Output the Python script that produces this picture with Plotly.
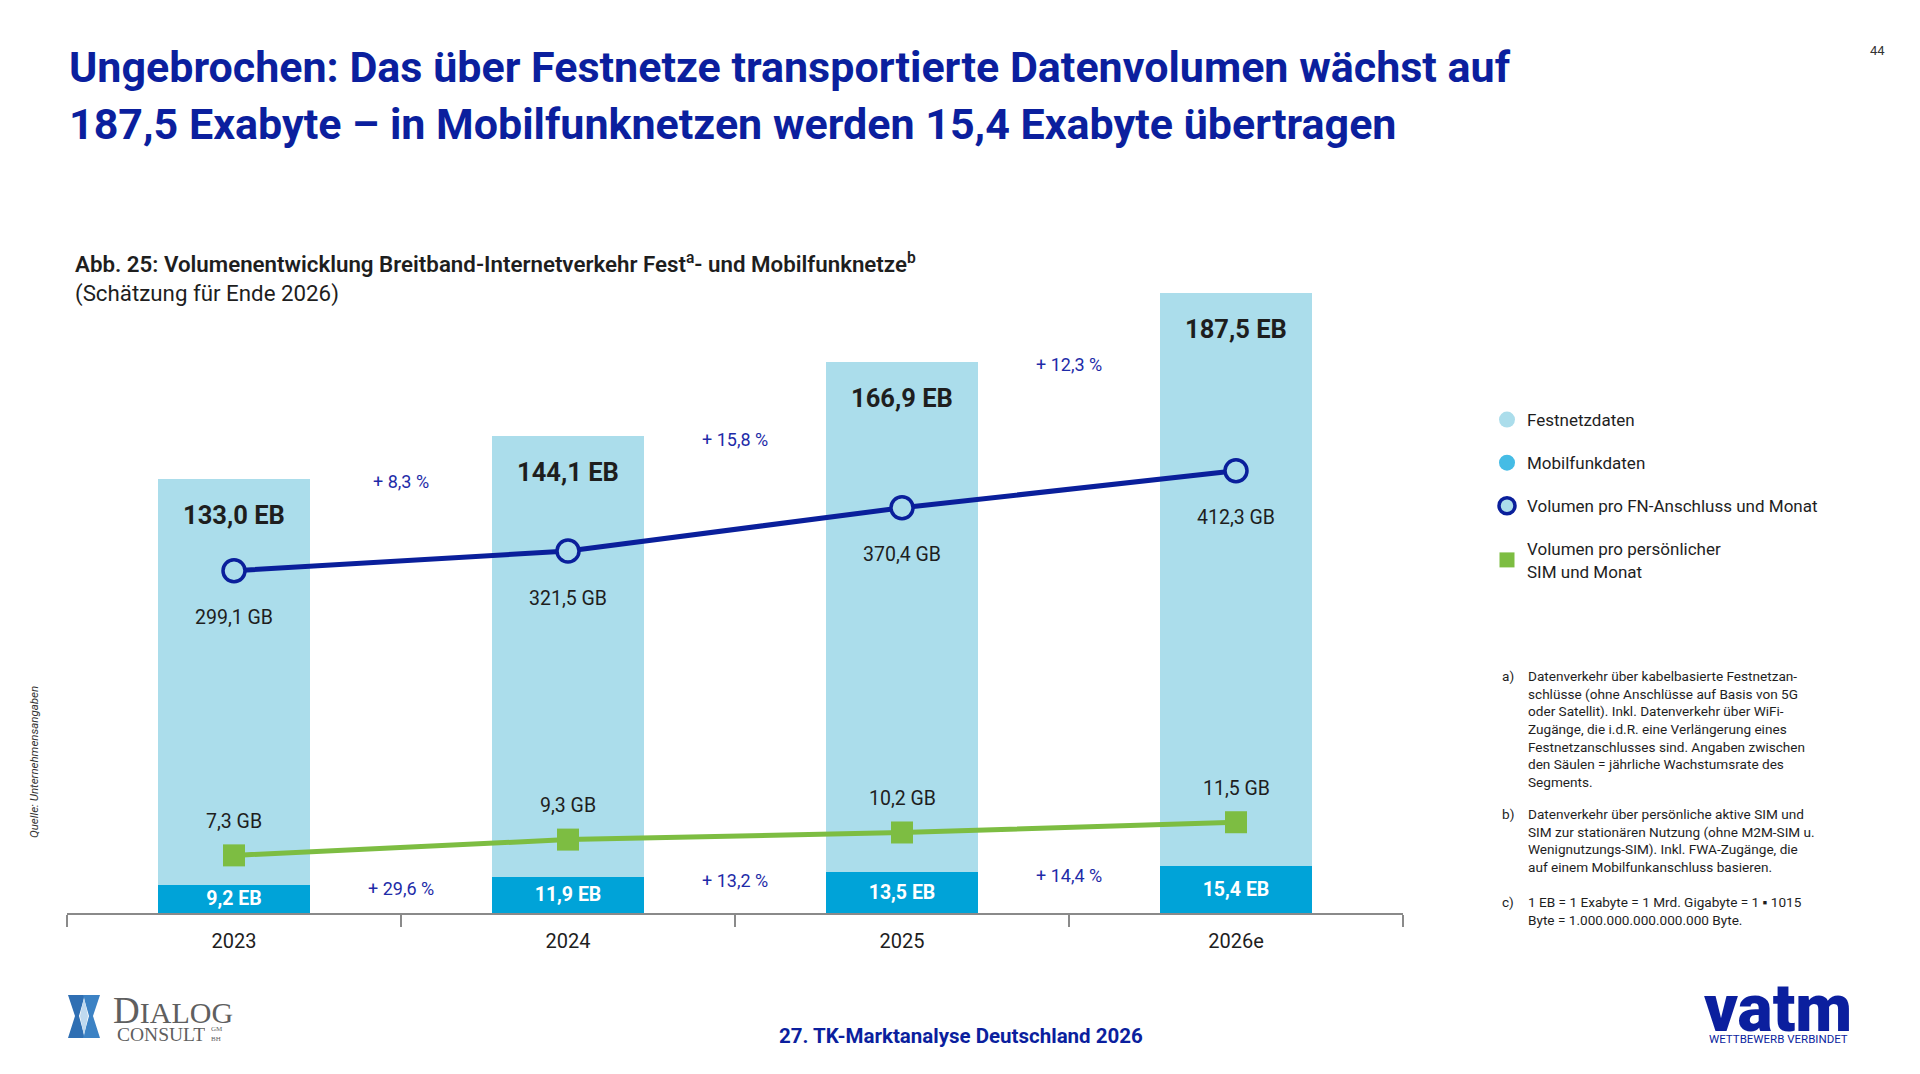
import plotly.graph_objects as go

W, H = 1920, 1074
OFF = 8  # page body margin in the browser

# data
years = ["2023", "2024", "2025", "2026e"]
fest_eb = [133.0, 144.1, 166.9, 187.5]       # Festnetzdaten, Exabyte
mobil_eb = [9.2, 11.9, 13.5, 15.4]           # Mobilfunkdaten, Exabyte
fn_gb = [299.1, 321.5, 370.4, 412.3]         # GB pro FN-Anschluss und Monat
sim_gb = [7.3, 9.3, 10.2, 11.5]              # GB pro persoenlicher SIM und Monat
fest_growth = [8.3, 15.8, 12.3]              # % zwischen den Saeulen (oben)
mobil_growth = [29.6, 13.2, 14.4]            # % zwischen den Saeulen (unten)

FONT = "Roboto"
TITLE = "#0B1F9E"
LIGHT = "#ABDDEB"
MOBIL = "#00A3D8"
MOBIL_LEG = "#45BCE5"
NAVY = "#0A1F9B"
GREEN = "#7DBD42"
TXT = "#1E1E1E"
GROWTH = "#1E2BA8"
LOGO_GREY = "#5F5F5F"


def de(v):
    return f"{v:.1f}".replace(".", ",")


def px(x):
    return (x - OFF) / W


def py(y):
    return 1 - (y - OFF) / H


fig = go.Figure()

# stacked columns
fig.add_trace(go.Bar(
    x=years, y=mobil_eb, width=0.455,
    marker=dict(color=MOBIL, line=dict(width=0)),
    text=[f"<b>{de(v)} EB</b>" for v in mobil_eb],
    textposition="inside", insidetextanchor="middle", constraintext="none",
    textfont=dict(color="white", size=19.5, family=FONT),
    showlegend=False, hoverinfo="skip",
))
fig.add_trace(go.Bar(
    x=years, y=fest_eb, width=0.455,
    marker=dict(color=LIGHT, line=dict(width=0)),
    showlegend=False, hoverinfo="skip",
))

# lines
fig.add_trace(go.Scatter(
    x=years, y=fn_gb, yaxis="y2", mode="lines+markers",
    line=dict(color=NAVY, width=5),
    marker=dict(symbol="circle", size=22, color=LIGHT, line=dict(color=NAVY, width=3.5)),
    showlegend=False, hoverinfo="skip",
))
fig.add_trace(go.Scatter(
    x=years, y=sim_gb, yaxis="y3", mode="lines+markers",
    line=dict(color=GREEN, width=5),
    marker=dict(symbol="square", size=22, color=GREEN),
    showlegend=False, hoverinfo="skip",
))

# legend entries
legend_items = [
    ("Festnetzdaten", dict(symbol="circle", size=16, color=LIGHT)),
    ("Mobilfunkdaten", dict(symbol="circle", size=16, color=MOBIL_LEG)),
    ("Volumen pro FN-Anschluss und Monat",
     dict(symbol="circle", size=16, color=LIGHT, line=dict(color=NAVY, width=3.5))),
    ("Volumen pro persönlicher<br>SIM und Monat", dict(symbol="square", size=15, color=GREEN)),
]
for i, (name, mk) in enumerate(legend_items):
    fig.add_trace(go.Scatter(
        x=[None], y=[None], mode="markers", marker=mk, name=name,
        legendgroup=f"g{i}", showlegend=True,
    ))

ann = []
n = len(years)
for i in range(n):
    top = fest_eb[i] + mobil_eb[i]
    ann.append(dict(x=i, y=top, xref="x", yref="y", yshift=-36,
                    text=f"<b>{de(fest_eb[i])} EB</b>", showarrow=False,
                    font=dict(size=25.5, color=TXT)))
    ann.append(dict(x=i, y=fn_gb[i], xref="x", yref="y2", yshift=-47,
                    text=f"{de(fn_gb[i])} GB", showarrow=False,
                    font=dict(size=19.5, color=TXT)))
    ann.append(dict(x=i, y=sim_gb[i], xref="x", yref="y3", yshift=34,
                    text=f"{de(sim_gb[i])} GB", showarrow=False,
                    font=dict(size=19.5, color=TXT)))
for i in range(n - 1):
    ann.append(dict(x=i + 0.5, y=fest_eb[i] + mobil_eb[i], xref="x", yref="y", yshift=-3,
                    text=f"+ {de(fest_growth[i])} %", showarrow=False,
                    font=dict(size=18, color=GROWTH)))
    ann.append(dict(x=i + 0.5, y=mobil_eb[i], xref="x", yref="y", yshift=-4,
                    text=f"+ {de(mobil_growth[i])} %", showarrow=False,
                    font=dict(size=18, color=GROWTH)))


def note(x, y, text, size, color=TXT, xanchor="left", yanchor="middle", **kw):
    ann.append(dict(x=px(x), y=py(y), xref="paper", yref="paper", text=text,
                    showarrow=False, xanchor=xanchor, yanchor=yanchor, align="left",
                    font=dict(size=size, color=color, family=kw.pop("family", FONT),
                              weight=kw.pop("weight", None)), **kw))


# headline
note(67, 67, "<b>Ungebrochen: Das über Festnetze transportierte Datenvolumen wächst auf</b>", 43, TITLE)
note(67, 124, "<b>187,5 Exabyte – in Mobilfunknetzen werden 15,4 Exabyte übertragen</b>", 43, TITLE)
note(1877, 51, "44", 13, "#333333", xanchor="center")

note(73, 263, "Abb. 25: Volumenentwicklung Breitband-Internetverkehr Fest<sup>a</sup>- und Mobilfunknetze<sup>b</sup>",
     22.3, TXT, weight=600)
note(73, 293, "(Schätzung für Ende 2026)", 22.3, TXT)

note(34, 762, "<i>Quelle: Unternehmensangaben</i>", 11.5, "#333333", xanchor="center", textangle=-90)

# footnotes
notes = [
    ("a)", "Datenverkehr über kabelbasierte Festnetzan-<br>schlüsse (ohne Anschlüsse auf Basis von 5G<br>"
           "oder Satellit). Inkl. Datenverkehr über WiFi-<br>Zugänge, die i.d.R. eine Verlängerung eines<br>"
           "Festnetzanschlusses sind. Angaben zwischen<br>den Säulen = jährliche Wachstumsrate des<br>Segments.", 666),
    ("b)", "Datenverkehr über persönliche aktive SIM und<br>SIM zur stationären Nutzung (ohne M2M-SIM u.<br>"
           "Wenignutzungs-SIM). Inkl. FWA-Zugänge, die<br>auf einem Mobilfunkanschluss basieren.", 804),
    ("c)", "1 EB = 1 Exabyte = 1 Mrd. Gigabyte = 1 ▪ 1015<br>Byte = 1.000.000.000.000.000 Byte.", 892),
]
for lab, body, y in notes:
    note(1500, y, lab, 13.6, TXT, yanchor="top")
    note(1526, y, body, 13.6, TXT, yanchor="top")

# footer
note(961, 1036, "<b>27. TK-Marktanalyse Deutschland 2026</b>", 20.5, TITLE, xanchor="center")
note(1778, 1008, "vatm", 66, TITLE, xanchor="center", weight=900, height=52)
note(1778, 1039, "WETTBEWERB VERBINDET", 11.5, TITLE, xanchor="center", height=12)
note(111, 1010, "D<span style='font-size:30px'>IALOG</span>", 37, LOGO_GREY, family="Liberation Serif", height=30)
note(115, 1034, "CONSULT", 19.5, LOGO_GREY, family="Liberation Serif", height=16)
note(209, 1034, "GM<br>BH", 7, LOGO_GREY, family="Liberation Serif", height=16)

shapes = []


def path(pts):
    return "M " + " L ".join(f"{px(a):.5f},{py(b):.5f}" for a, b in pts) + " Z"


# dialog consult emblem
shapes.append(dict(type="path", xref="paper", yref="paper",
                   path=path([(68, 995), (85, 995), (79, 1016), (85, 1038), (68, 1038), (75, 1016)]),
                   fillcolor="#2F6FB3", line=dict(width=0)))
shapes.append(dict(type="path", xref="paper", yref="paper",
                   path=path([(100, 995), (83, 995), (89, 1016), (83, 1038), (100, 1038), (93, 1016)]),
                   fillcolor="#3C82C4", line=dict(width=0)))
shapes.append(dict(type="path", xref="paper", yref="paper",
                   path=path([(84, 997), (88, 1016), (84, 1036), (80, 1016)]),
                   fillcolor="#BFD9EF", line=dict(width=0)))

fig.update_layout(
    width=W, height=H,
    margin=dict(l=0, r=0, t=0, b=0),
    paper_bgcolor="white",
    plot_bgcolor="rgba(0,0,0,0)",
    font=dict(family=FONT, color=TXT),
    barmode="stack",
    bargap=0.545,
    hovermode=False,
    showlegend=True,
    legend=dict(x=px(1487), y=py(402), xanchor="left", yanchor="top",
                font=dict(size=17, color=TXT, family=FONT),
                tracegroupgap=18, bgcolor="rgba(0,0,0,0)", itemsizing="trace"),
    xaxis=dict(domain=[px(67), px(1403)], type="category", categoryorder="array",
               categoryarray=years, range=[-0.5, 3.5],
               showline=True, linecolor="#8A8A8A", linewidth=2,
               ticks="outside", tickson="boundaries", ticklen=12, tickcolor="#8A8A8A", tickwidth=1.5,
               ticklabelstandoff=9,
               tickfont=dict(size=20, color=TXT), showgrid=False, zeroline=False, fixedrange=True),
    yaxis=dict(domain=[py(913), py(250)], range=[0, 217], visible=False, fixedrange=True),
    yaxis2=dict(domain=[py(913), py(250)], overlaying="y", range=[-88, 662], visible=False),
    yaxis3=dict(domain=[py(913), py(250)], overlaying="y", range=[0, 84], visible=False),
    annotations=ann,
    shapes=shapes,
)

fig.write_html("out.html")
